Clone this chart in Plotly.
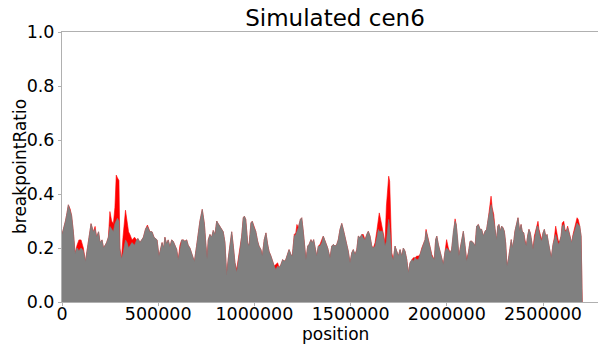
import plotly.graph_objects as go

# genomic position (bp) of each window
position = [
    0, 4000, 10000, 18000, 26000, 33000, 42000, 50000, 59000, 68000,
    78000, 88000, 99000, 111000, 122000, 137000, 151000, 163000, 172000, 180000,
    190000, 198000, 208000, 216000, 223000, 232000, 241000, 249000, 258000, 267000,
    275000, 282000, 288000, 296000, 301000, 309000, 317000, 330000, 338000, 346000,
    353000, 364000, 377000, 388000, 395000, 405000, 414000, 423000, 434000, 444000,
    457000, 468000, 478000, 494000, 504000, 520000, 528000, 535000, 544000, 552000,
    561000, 570000, 578000, 587000, 596000, 604000, 613000, 622000, 630000, 639000,
    648000, 656000, 665000, 674000, 688000, 700000, 708000, 717000, 729000, 740000,
    747000, 754000, 760000, 769000, 778000, 786000, 795000, 804000, 812000, 821000,
    830000, 838000, 847000, 856000, 864000, 873000, 882000, 890000, 899000, 908000,
    916000, 925000, 934000, 942000, 948000, 955000, 965000, 972000, 982000, 989000,
    999000, 1007000, 1017000, 1024000, 1034000, 1041000, 1051000, 1060000, 1069000, 1076000,
    1086000, 1095000, 1103000, 1111000, 1121000, 1128000, 1138000, 1147000, 1155000, 1163000,
    1173000, 1180000, 1190000, 1197000, 1207000, 1215000, 1221000, 1228000, 1239000, 1246000,
    1254000, 1263000, 1268000, 1277000, 1284000, 1294000, 1301000, 1308000, 1315000, 1324000,
    1332000, 1341000, 1350000, 1358000, 1371000, 1381000, 1393000, 1402000, 1410000, 1419000,
    1428000, 1436000, 1445000, 1454000, 1462000, 1471000, 1480000, 1488000, 1497000, 1506000,
    1514000, 1523000, 1532000, 1540000, 1549000, 1558000, 1566000, 1575000, 1584000, 1592000,
    1601000, 1610000, 1618000, 1627000, 1636000, 1644000, 1649000, 1658000, 1665000, 1672000,
    1679000, 1686000, 1693000, 1698000, 1703000, 1708000, 1714000, 1722000, 1731000, 1740000,
    1748000, 1757000, 1766000, 1774000, 1783000, 1792000, 1800000, 1809000, 1818000, 1826000,
    1835000, 1844000, 1852000, 1861000, 1870000, 1878000, 1887000, 1892000, 1899000, 1907000,
    1914000, 1922000, 1930000, 1935000, 1942000, 1948000, 1956000, 1965000, 1973000, 1982000,
    1991000, 1999000, 2008000, 2017000, 2025000, 2034000, 2043000, 2049000, 2057000, 2063000,
    2070000, 2077000, 2086000, 2095000, 2103000, 2112000, 2121000, 2129000, 2138000, 2147000,
    2155000, 2164000, 2173000, 2181000, 2190000, 2199000, 2207000, 2216000, 2225000, 2230000,
    2236000, 2244000, 2251000, 2259000, 2265000, 2271000, 2278000, 2285000, 2292000, 2299000,
    2306000, 2313000, 2320000, 2327000, 2335000, 2340000, 2349000, 2354000, 2361000, 2370000,
    2379000, 2386000, 2392000, 2400000, 2406000, 2413000, 2420000, 2427000, 2434000, 2441000,
    2448000, 2455000, 2462000, 2469000, 2474000, 2479000, 2486000, 2493000, 2500000, 2507000,
    2514000, 2521000, 2528000, 2535000, 2543000, 2552000, 2559000, 2566000, 2573000, 2580000,
    2587000, 2594000, 2600000, 2608000, 2614000, 2621000, 2628000, 2635000, 2642000, 2649000,
    2656000, 2663000, 2670000, 2677000, 2683000, 2691000, 2698000, 2701000, 2704000,
]

# breakpoint ratio (front series)
ratio_main = [
    .25, .26, .28, .30, .33, .36, .34, .32, .26, .18,
    .20, .19, .20, .19, .15, .23, .29, .26, .27, .24,
    .26, .22, .23, .20, .21, .22, .24, .28, .27, .26,
    .29, .30, .31, .30, .19, .16, .18, .23, .22, .20,
    .21, .22, .21, .23, .235, .22, .23, .24, .27, .28,
    .26, .26, .24, .23, .17, .22, .20, .24, .215, .23,
    .205, .23, .225, .21, .195, .157, .20, .23, .23, .225,
    .23, .21, .20, .18, .15, .21, .26, .30, .343, .29,
    .22, .16, .23, .25, .24, .265, .25, .30, .29, .28,
    .27, .26, .22, .10, .16, .21, .26, .21, .145, .11,
    .145, .194, .244, .312, .318, .306, .219, .207, .293, .299,
    .275, .262, .225, .207, .194, .170, .231, .256, .213, .188,
    .170, .145, .133, .120, .133, .127, .139, .157, .151, .157,
    .176, .194, .176, .170, .244, .250, .262, .275, .306, .312,
    .262, .200, .157, .207, .213, .231, .219, .231, .207, .170,
    .207, .207, .219, .244, .219, .200, .164, .207, .213, .207,
    .213, .231, .269, .291, .269, .244, .213, .188, .145, .182,
    .194, .176, .194, .244, .238, .250, .238, .231, .250, .262,
    .244, .207, .200, .207, .238, .269, .262, .262, .262, .238,
    .207, .225, .269, .306, .281, .219, .170, .157, .207, .188,
    .170, .194, .170, .200, .188, .157, .108, .145, .157, .151,
    .164, .157, .157, .176, .200, .213, .231, .262, .244, .225,
    .200, .170, .164, .157, .231, .244, .213, .188, .170, .139,
    .188, .200, .194, .182, .194, .262, .299, .287, .231, .170,
    .200, .231, .262, .207, .151, .182, .225, .225, .219, .207,
    .281, .287, .269, .269, .244, .262, .269, .312, .355, .361,
    .343, .306, .269, .231, .281, .287, .262, .281, .275, .262,
    .219, .133, .157, .200, .231, .200, .231, .262, .281, .312,
    .262, .287, .262, .256, .225, .207, .244, .269, .256, .225,
    .194, .231, .262, .281, .281, .262, .238, .225, .256, .269,
    .244, .250, .219, .194, .164, .213, .231, .250, .231, .213,
    .225, .244, .281, .287, .262, .262, .275, .256, .244, .219,
    .244, .262, .275, .293, .287, .281, .244, .120, 0.0,
]

# breakpoint ratio (back series, visible where it exceeds the front one)
ratio_back = [
    .25, .26, .28, .30, .33, .36, .345, .32, .26, .18,
    .21, .23, .23, .20, .15, .23, .29, .26, .28, .24,
    .26, .22, .23, .20, .21, .22, .24, .335, .30, .29,
    .35, .47, .46, .45, .20, .16, .24, .34, .30, .26,
    .25, .23, .24, .23, .235, .22, .23, .24, .27, .285,
    .26, .26, .24, .23, .17, .22, .20, .24, .215, .23,
    .205, .23, .225, .21, .195, .157, .21, .23, .23, .225,
    .23, .21, .20, .18, .15, .21, .26, .30, .343, .29,
    .22, .16, .23, .25, .24, .265, .25, .30, .29, .28,
    .27, .26, .22, .10, .16, .21, .26, .21, .145, .12,
    .157, .194, .244, .312, .318, .306, .219, .207, .293, .299,
    .275, .262, .225, .207, .194, .170, .231, .256, .213, .188,
    .170, .145, .133, .139, .145, .127, .139, .157, .151, .157,
    .176, .194, .176, .170, .250, .256, .287, .275, .306, .312,
    .262, .200, .157, .207, .213, .231, .219, .231, .207, .170,
    .207, .213, .231, .244, .219, .200, .164, .207, .213, .207,
    .213, .231, .269, .291, .269, .244, .213, .188, .145, .182,
    .194, .176, .194, .244, .238, .250, .250, .231, .250, .262,
    .244, .207, .200, .219, .262, .312, .330, .299, .269, .250,
    .219, .355, .441, .466, .447, .343, .182, .157, .207, .188,
    .170, .194, .170, .200, .188, .157, .108, .145, .157, .164,
    .164, .170, .170, .176, .200, .219, .231, .269, .244, .225,
    .200, .176, .164, .157, .231, .244, .213, .188, .170, .139,
    .188, .231, .200, .182, .194, .262, .308, .287, .231, .170,
    .200, .231, .262, .207, .157, .182, .225, .225, .219, .207,
    .281, .287, .269, .269, .244, .262, .269, .312, .361, .392,
    .349, .324, .269, .231, .281, .287, .262, .281, .275, .262,
    .219, .133, .157, .200, .231, .200, .231, .262, .281, .312,
    .262, .287, .262, .256, .231, .207, .244, .269, .256, .225,
    .194, .244, .262, .287, .299, .269, .244, .231, .256, .269,
    .244, .250, .219, .194, .164, .213, .238, .281, .256, .225,
    .225, .244, .293, .299, .269, .262, .281, .256, .244, .219,
    .250, .275, .287, .312, .306, .281, .244, .120, 0.0,
]

x_ticks = [0, 500000, 1000000, 1500000, 2000000, 2500000]
x_tick_labels = ["0", "500000", "1000000", "1500000", "2000000", "2500000"]
y_ticks = [0.0, 0.2, 0.4, 0.6, 0.8, 1.0]
y_tick_labels = ["0.0", "0.2", "0.4", "0.6", "0.8", "1.0"]

title_text = "Simulated cen6"
x_label = "position"
y_label = "breakpointRatio"

FONT = "DejaVu Sans"
SPINE = "#b0b0b0"

fig = go.Figure()
fig.add_trace(go.Scatter(
    x=position, y=ratio_back, mode="lines", fill="tozeroy",
    line=dict(color="#ff0000", width=0.6), fillcolor="#ff0000",
    hoverinfo="skip",
))
fig.add_trace(go.Scatter(
    x=position, y=ratio_main, mode="lines", fill="tozeroy",
    line=dict(color="#808080", width=0.6), fillcolor="#808080",
    hoverinfo="skip",
))

fig.update_layout(
    width=598, height=345,
    margin=dict(l=62, r=0, t=32, b=43),
    plot_bgcolor="white", paper_bgcolor="white",
    showlegend=False,
    font=dict(family=FONT, color="black"),
    title=dict(
        text=title_text, font=dict(family=FONT, size=23, color="black"),
        xref="container", x=335 / 598, xanchor="center",
        yref="container", y=1 - 18 / 345, yanchor="middle",
    ),
    annotations=[
        dict(text=x_label, xref="paper", yref="paper",
             x=(335 - 62) / 536, y=-(334 - 302) / 270,
             xanchor="center", yanchor="middle", showarrow=False,
             font=dict(family=FONT, size=17, color="black")),
        dict(text=y_label, xref="paper", yref="paper",
             x=(20 - 62) / 536, y=0.5, textangle=-90,
             xanchor="center", yanchor="middle", showarrow=False,
             font=dict(family=FONT, size=17, color="black")),
    ],
)

fig.update_xaxes(
    range=[0, (598 - 62) * 5197.5],
    tickvals=x_ticks, ticktext=x_tick_labels,
    tickfont=dict(family=FONT, size=17.5, color="black"),
    showline=True, linecolor=SPINE, linewidth=1, mirror=True,
    ticks="outside", ticklen=3, tickcolor=SPINE,
    ticklabelstandoff=-7,
    showgrid=False, zeroline=False,
)
fig.update_yaxes(
    range=[0, 1],
    tickvals=y_ticks, ticktext=y_tick_labels,
    tickfont=dict(family=FONT, size=17.5, color="black"),
    showline=True, linecolor=SPINE, linewidth=1, mirror=False,
    ticks="outside", ticklen=3, tickcolor=SPINE,
    showgrid=False, zeroline=False,
)

fig.write_html("out.html")
